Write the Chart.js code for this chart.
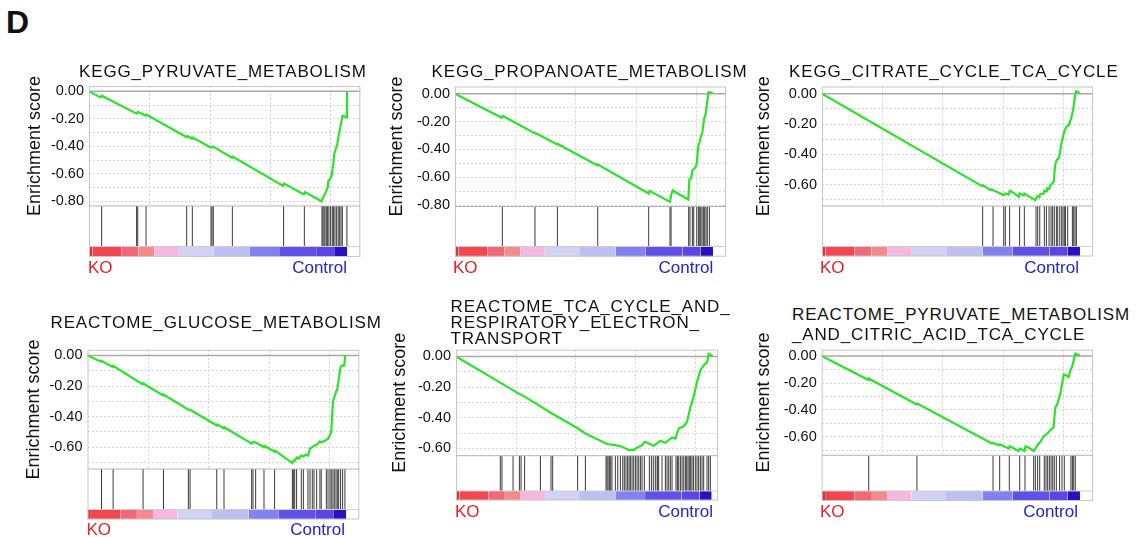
<!DOCTYPE html>
<html><head><meta charset="utf-8">
<script src="https://cdn.jsdelivr.net/npm/chart.js@4.4.1/dist/chart.umd.min.js"></script>
<style>
html,body{margin:0;padding:0;background:#fff;}
#fig{position:relative;width:1136px;height:537px;overflow:hidden;font-family:'Liberation Sans',Arial,sans-serif;background:#fff;}
#fig canvas{position:absolute;}
.t{position:absolute;white-space:nowrap;color:#111;line-height:1;}
</style></head><body><div id="fig"></div>
<script>
// ---------------- data ----------------
const TITLES = [
  ['KEGG_PYRUVATE_METABOLISM'],
  ['KEGG_PROPANOATE_METABOLISM'],
  ['KEGG_CITRATE_CYCLE_TCA_CYCLE'],
  ['REACTOME_GLUCOSE_METABOLISM'],
  ['REACTOME_TCA_CYCLE_AND_', 'RESPIRATORY_ELECTRON_', 'TRANSPORT'],
  ['REACTOME_PYRUVATE_METABOLISM', '_AND_CITRIC_ACID_TCA_CYCLE']
];
const Y_TITLE = 'Enrichment score';
const GROUP_LOW = 'KO';
const GROUP_HIGH = 'Control';
const PANEL_LETTER = 'D';
const ES_TICK_LABELS = ['0.00', '-0.20', '-0.40', '-0.60', '-0.80'];
const ES_GRID = [0, -0.1, -0.2, -0.3, -0.4, -0.5, -0.6, -0.7, -0.8];
const RANK_GRID = [5, 10, 15, 20];   // rank in thousands

// ranked-list colour bar (rank in thousands)
const COLOR_BAR_EDGES = [0, 0.28, 2.71, 4.09, 5.42, 7.46, 10.31, 13.35, 15.84, 18.9, 20.4, 21.42];
const COLOR_BAR_COLORS = ['#e0303a', '#f2474f', '#f2687a', '#f58a8a', '#f7b8df', '#d2d2f7',
                          '#bfbef3', '#8181f2', '#6150e8', '#5a46e2', '#2a0fc4'];

// running enrichment score [rank, ES]
const ES_1 = [[0,0],[0.95,-0.044],[1.05,-0.032],[3.95,-0.162],[4.05,-0.150],[4.7,-0.176],[4.75,-0.168],[8.1,-0.333],[8.15,-0.325],[8.55,-0.344],[8.6,-0.336],[10.1,-0.408],[10.3,-0.402],[11.85,-0.482],[11.9,-0.474],[16.1,-0.688],[16.18,-0.670],[17.82,-0.750],[17.9,-0.733],[19.29,-0.800],[19.43,-0.770],[19.63,-0.735],[19.8,-0.700],[19.85,-0.650],[19.99,-0.638],[20.12,-0.613],[20.26,-0.528],[20.34,-0.456],[20.59,-0.383],[20.73,-0.310],[20.84,-0.262],[20.95,-0.213],[21.03,-0.177],[21.37,-0.189],[21.39,0.0]];
const ES_2 = [[0,0],[3.88,-0.172],[3.98,-0.160],[6.64,-0.285],[6.68,-0.281],[8.48,-0.364],[8.52,-0.360],[11.83,-0.514],[11.87,-0.508],[16.08,-0.716],[16.15,-0.697],[17.85,-0.776],[17.94,-0.730],[18.07,-0.694],[19.37,-0.759],[19.46,-0.614],[19.6,-0.61],[19.71,-0.549],[19.9,-0.535],[20.07,-0.506],[20.2,-0.373],[20.3,-0.350],[20.4,-0.313],[20.54,-0.277],[20.68,-0.181],[20.8,-0.150],[20.95,-0.048],[21.06,0.012],[21.4,0.005]];
const ES_3 = [[0,0],[13.29,-0.611],[13.37,-0.604],[13.98,-0.637],[14.1,-0.632],[14.26,-0.640],[15.09,-0.670],[15.22,-0.659],[15.5,-0.666],[15.58,-0.642],[15.92,-0.655],[16.33,-0.681],[16.41,-0.66],[16.75,-0.672],[16.8,-0.66],[17.72,-0.703],[17.8,-0.69],[17.9,-0.677],[18.05,-0.683],[18.1,-0.665],[18.4,-0.66],[18.46,-0.64],[18.6,-0.645],[18.68,-0.625],[18.85,-0.63],[18.96,-0.604],[19.1,-0.595],[19.24,-0.582],[19.3,-0.52],[19.38,-0.462],[19.51,-0.435],[19.62,-0.43],[19.74,-0.40],[19.9,-0.32],[20.07,-0.264],[20.15,-0.24],[20.29,-0.22],[20.48,-0.209],[20.6,-0.18],[20.68,-0.165],[20.84,-0.11],[20.95,-0.05],[21.04,0.0],[21.12,0.018],[21.4,0.004]];
const ES_4 = [[0,0],[1.12,-0.041],[1.16,-0.035],[2.07,-0.075],[2.12,-0.068],[4.55,-0.188],[4.6,-0.182],[6.25,-0.262],[6.29,-0.256],[8.35,-0.355],[8.49,-0.355],[10.7,-0.458],[10.75,-0.452],[11.3,-0.478],[11.35,-0.471],[13.59,-0.577],[13.7,-0.566],[13.92,-0.570],[14.61,-0.600],[14.65,-0.592],[15.49,-0.630],[15.53,-0.623],[16.96,-0.704],[17.04,-0.688],[17.15,-0.69],[17.31,-0.668],[17.5,-0.675],[17.7,-0.655],[17.87,-0.66],[18.06,-0.65],[18.25,-0.655],[18.42,-0.61],[18.61,-0.60],[18.75,-0.59],[18.97,-0.585],[19.24,-0.563],[19.35,-0.57],[19.77,-0.553],[19.91,-0.545],[20.07,-0.52],[20.18,-0.499],[20.32,-0.30],[20.43,-0.272],[20.57,-0.24],[20.68,-0.218],[20.79,-0.16],[20.95,-0.075],[21.12,-0.065],[21.25,-0.067],[21.33,0.0]];
const ES_5 = [[0,0],[3.85,-0.177],[5.25,-0.242],[5.75,-0.262],[8.04,-0.372],[10.19,-0.468],[10.84,-0.502],[12.65,-0.571],[13.35,-0.578],[13.91,-0.589],[14.47,-0.610],[14.89,-0.611],[15.17,-0.595],[15.59,-0.578],[15.81,-0.556],[16.14,-0.567],[16.56,-0.582],[16.84,-0.567],[17.12,-0.550],[17.54,-0.563],[18.1,-0.528],[18.38,-0.535],[18.66,-0.470],[19.08,-0.455],[19.36,-0.426],[19.64,-0.329],[19.91,-0.264],[20.19,-0.167],[20.47,-0.091],[20.75,-0.058],[21.03,-0.037],[21.17,0.017],[21.5,0.0]];
const ES_6 = [[0,0],[3.85,-0.176],[3.92,-0.168],[7.88,-0.36],[7.92,-0.352],[14.12,-0.649],[14.21,-0.645],[14.68,-0.662],[14.76,-0.655],[15.51,-0.686],[15.6,-0.669],[16.34,-0.704],[16.45,-0.686],[16.81,-0.704],[16.9,-0.669],[17.3,-0.686],[17.58,-0.704],[17.72,-0.686],[17.99,-0.649],[18.13,-0.637],[18.41,-0.595],[18.63,-0.58],[18.82,-0.563],[19.24,-0.526],[19.3,-0.45],[19.38,-0.378],[19.51,-0.365],[19.79,-0.279],[19.95,-0.2],[20.07,-0.136],[20.29,-0.143],[20.48,-0.156],[20.62,-0.106],[20.76,-0.081],[20.9,-0.032],[21.03,0.017],[21.39,0.005]];

// gene-set hit positions (rank in thousands)
const HITS_1 = [1.05,3.95,4.04,4.73,8.10,8.57,10.12,10.20,10.31,11.89,16.14,17.86,19.32,19.40,19.49,19.57,19.68,19.79,19.90,20.04,20.18,20.29,20.40,20.54,20.67,20.79,20.90,21.01,21.39];
const HITS_2 = [3.93,6.64,8.50,11.85,16.08,17.85,17.94,19.40,19.51,19.71,19.82,20.07,20.21,20.32,20.40,20.51,20.62,20.73,20.84,20.95,21.12];
const HITS_3 = [13.34,14.2,15.09,15.22,15.58,16.41,16.8,17.77,17.91,18.08,18.46,18.63,18.85,19.02,19.15,19.29,19.46,19.57,19.74,19.9,20.01,20.12,20.21,20.4,20.79,20.9,21.01,21.12];
const HITS_4 = [1.16,2.12,4.6,6.29,8.35,8.49,10.7,11.3,13.59,13.7,13.92,14.61,15.49,16.96,17.04,17.15,17.31,17.7,17.87,18.25,18.42,18.61,18.75,18.97,19.24,19.35,19.77,19.91,20.07,20.18,20.32,20.43,20.57,20.68,20.79,20.95,21.12,21.31];
const HITS_5 = [3.71,3.85,4.78,5.31,5.45,5.75,7.07,7.96,8.1,10.19,10.84,12.57,12.65,12.74,12.85,12.96,13.07,13.35,13.55,13.77,13.97,14.1,14.24,14.38,14.5,14.61,14.75,14.89,15.03,15.17,15.31,15.45,15.59,15.78,16.2,16.37,16.53,16.7,16.85,16.9,16.98,17.26,17.54,17.68,17.82,17.96,18.1,18.43,18.55,18.66,18.8,18.94,19.08,19.22,19.33,19.44,19.55,19.66,19.77,19.89,20.05,20.19,20.33,20.47,20.61,20.75,21.03,21.17,21.31];
const HITS_6 = [3.9,7.9,14.21,14.76,15.56,16.42,16.86,17.58,17.72,17.91,18.08,18.46,18.6,18.74,18.88,19.02,19.16,19.29,19.46,19.73,19.93,20.12,20.67,20.79,20.9,21.03];

const ES_SERIES = [ES_1, ES_2, ES_3, ES_4, ES_5, ES_6];
const HIT_SERIES = [HITS_1, HITS_2, HITS_3, HITS_4, HITS_5, HITS_6];

// ---------------- layout (pixel positions of each panel) ----------------
const PANEL_BOX = [
  {titleCX:35,  plotLeft:89,    right:360.3, top:86,    esBot:206,   hitsBot:246.5, cBot:257,   yMin:-0.834, yMax:0.039, xMax:22.5},
  {titleCX:397, plotLeft:455,   right:726,   top:86.5,  esBot:206.5, hitsBot:246.5, cBot:256.7, yMin:-0.809, yMax:0.052, xMax:22.5},
  {titleCX:764, plotLeft:822,   right:1093,  top:86.5,  esBot:206,   hitsBot:246.5, cBot:256.5, yMin:-0.742, yMax:0.048, xMax:22.5},
  {titleCX:34,  plotLeft:87.5,  right:359.3, top:349.8, esBot:469,   hitsBot:509.5, cBot:519.5, yMin:-0.743, yMax:0.037, xMax:22.5},
  {titleCX:400, plotLeft:456,   right:718,   top:349.7, esBot:455.7, hitsBot:491,   cBot:500.5, yMin:-0.647, yMax:0.044, xMax:21.95},
  {titleCX:764, plotLeft:821.7, right:1093,  top:349.7, esBot:455.3, hitsBot:491,   cBot:501,   yMin:-0.736, yMax:0.047, xMax:22.5}
];
const TITLE_POS = [
  {x:79,    base:[77.5]},
  {x:431.5, base:[77.5]},
  {x:789,   base:[77.5]},
  {x:50.5,  base:[328.5]},
  {x:450.5, base:[312.8, 328.3, 344.5]},
  {x:792,   base:[320, 340]}
];
const GROUP_POS = [
  {koX:88,    ctrlR:347,    base:273.8},
  {koX:453,   ctrlR:713.3,  base:273.5},
  {koX:820,   ctrlR:1079,   base:273.5},
  {koX:86.5,  ctrlR:345,    base:535.5},
  {koX:455,   ctrlR:713,    base:517.2},
  {koX:820,   ctrlR:1078,   base:517.2}
];

const FONT = "'Liberation Sans', Arial, Helvetica, sans-serif";
Chart.defaults.font.family = FONT;
const fig = document.getElementById('fig');

function addText(txt, x, baseline, size, opts = {}) {
  const d = document.createElement('div');
  d.className = 't';
  d.textContent = txt;
  d.style.fontSize = size + 'px';
  d.style.top = (baseline - 0.8465 * size) + 'px';
  if (opts.right !== undefined) d.style.right = (1136 - opts.right) + 'px';
  else d.style.left = x + 'px';
  if (opts.color) d.style.color = opts.color;
  if (opts.bold) d.style.fontWeight = 'bold';
  if (opts.ls) d.style.letterSpacing = opts.ls + 'px';
  fig.appendChild(d);
}

const framePlugin = {
  id: 'gseaFrame',
  beforeDatasetsDraw(chart) {
    const {ctx, chartArea: a} = chart;
    const {x, y} = chart.scales;
    ctx.save();
    ctx.strokeStyle = '#d4d4d4';
    ctx.lineWidth = 1;
    ctx.setLineDash([2, 2]);
    for (const v of RANK_GRID) {
      const px = Math.round(x.getPixelForValue(v)) + 0.5;
      ctx.beginPath(); ctx.moveTo(px, y.top); ctx.lineTo(px, y.bottom); ctx.stroke();
    }
    ctx.setLineDash([]);
    ctx.strokeStyle = '#a9a9a9';
    ctx.lineWidth = 1.5;
    const p0 = y.getPixelForValue(0);
    ctx.beginPath(); ctx.moveTo(a.left, p0); ctx.lineTo(a.right, p0); ctx.stroke();
    ctx.restore();
  },
  afterDatasetsDraw(chart) {
    const {ctx, chartArea: a} = chart;
    const {yh, yc} = chart.scales;
    ctx.save();
    ctx.strokeStyle = '#c6c6c6';
    ctx.lineWidth = 1;
    ctx.strokeRect(a.left + 0.5, a.top + 0.5, a.width - 1, a.height - 1);
    ctx.strokeStyle = '#b4b4b4';
    ctx.beginPath(); ctx.moveTo(a.left, yh.top); ctx.lineTo(a.right, yh.top); ctx.stroke();
    ctx.strokeStyle = '#cfcfcf';
    ctx.beginPath(); ctx.moveTo(a.left, yc.top); ctx.lineTo(a.right, yc.top); ctx.stroke();
    ctx.restore();
  }
};

function makePanel(i) {
  const L = PANEL_BOX[i];
  const cLeft = Math.round(L.titleCX - 10.8);
  const cTop = Math.floor(L.top) - 20;
  const w = Math.ceil(L.right) + 4 - cLeft;
  const h = Math.ceil(L.cBot) + 20 - cTop;
  const cv = document.createElement('canvas');
  cv.width = w; cv.height = h;
  cv.style.left = cLeft + 'px'; cv.style.top = cTop + 'px';
  cv.style.width = w + 'px'; cv.style.height = h + 'px';
  fig.appendChild(cv);
  const padTop = L.top - cTop;
  const padBottom = h - (L.cBot - cTop);
  const padRight = w - (L.right - cLeft);
  const axisW = L.plotLeft - cLeft;

  const datasets = [];
  datasets.push({
    label: 'ES', data: ES_SERIES[i].map(([x, y]) => ({x, y})), yAxisID: 'y',
    borderColor: '#2be32b', borderWidth: 2.2, pointRadius: 0, fill: false, tension: 0, order: 0
  });
  datasets.push({
    label: 'hits', data: HIT_SERIES[i].flatMap(r => [{x: r, y: 0}, {x: r, y: 1}, {x: r, y: null}]),
    yAxisID: 'yh', borderColor: '#3a3a3a', borderWidth: 1, pointRadius: 0, fill: false,
    spanGaps: false, order: 1
  });
  COLOR_BAR_COLORS.forEach((c, k) => {
    datasets.push({
      label: 'bar' + k,
      data: [{x: COLOR_BAR_EDGES[k], y: 1}, {x: COLOR_BAR_EDGES[k + 1], y: 1}],
      yAxisID: 'yc', borderWidth: 0, borderColor: 'transparent', backgroundColor: c,
      pointRadius: 0, fill: {value: 0}, order: 2
    });
  });

  new Chart(cv, {
    type: 'line',
    data: {datasets},
    options: {
      responsive: false, animation: false, devicePixelRatio: 1, events: [],
      layout: {padding: {left: 0, top: padTop, right: padRight, bottom: padBottom}},
      plugins: {legend: {display: false}, tooltip: {enabled: false}, title: {display: false}},
      scales: {
        x: {type: 'linear', min: 0, max: L.xMax, display: false},
        y: {
          type: 'linear', position: 'left', stack: 'gsea', stackWeight: L.esBot - L.top, weight: 3,
          min: L.yMin, max: L.yMax,
          afterBuildTicks: s => { s.ticks = ES_GRID.filter(v => v >= s.min - 1e-9 && v <= s.max + 1e-9).map(v => ({value: v})); },
          afterFit: s => { s.width = axisW; s.paddingTop = 0; s.paddingBottom = 0; },
          ticks: {
            autoSkip: false, padding: 5, color: '#111', font: {size: 14.5},
            callback: v => { const r = Math.round(v * 10); return (r % 2 === 0) ? ES_TICK_LABELS[Math.abs(r) / 2] : ''; }
          },
          grid: {color: '#d6d6d6', lineWidth: 1, drawTicks: false},
          border: {display: false, dash: [2, 2]},
          title: {display: true, text: Y_TITLE, color: '#111', font: {size: 18}, padding: {top: 0, bottom: 0}}
        },
        yh: {type: 'linear', position: 'left', stack: 'gsea', stackWeight: L.hitsBot - L.esBot, weight: 2, min: 0, max: 1, display: false},
        yc: {type: 'linear', position: 'left', stack: 'gsea', stackWeight: L.cBot - L.hitsBot, weight: 1, min: 0, max: 1, display: false}
      }
    },
    plugins: [framePlugin]
  });

  const T = TITLE_POS[i];
  TITLES[i].forEach((line, k) => addText(line, T.x, T.base[k], 17, {ls: 0.85}));
  const G = GROUP_POS[i];
  addText(GROUP_LOW, G.koX, G.base, 17, {color: '#e8202a'});
  addText(GROUP_HIGH, 0, G.base, 17, {color: '#2424cc', right: G.ctrlR});
}

addText(PANEL_LETTER, 6, 33.3, 32, {bold: true});
for (let i = 0; i < 6; i++) makePanel(i);
</script>
</body></html>
